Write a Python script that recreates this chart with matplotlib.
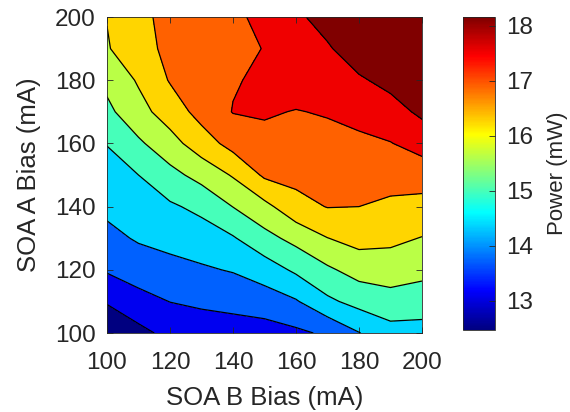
import numpy as np
import matplotlib.pyplot as plt
from matplotlib.colors import Normalize, LinearSegmentedColormap
from matplotlib.cm import ScalarMappable

plt.rcParams['font.family'] = ['Liberation Sans', 'DejaVu Sans']

# grid of bias currents (mA)
soa_b = [100, 110, 120, 130, 140, 150, 160, 170, 180, 190, 200]
soa_a = [100, 110, 120, 130, 140, 150, 160, 170, 180, 190, 200]

# output power (mW), rows = SOA A bias, columns = SOA B bias
power = [
    [12.47, 12.88, 13.20, 13.30, 13.35, 13.37, 13.50, 13.70, 14.16, 14.54, 14.54],
    [13.10, 13.42, 13.62, 13.71, 13.78, 13.90, 14.13, 14.64, 14.94, 15.10, 15.03],
    [13.67, 13.87, 14.01, 14.11, 14.22, 14.46, 14.85, 15.23, 15.54, 15.60, 15.48],
    [14.02, 14.24, 14.35, 14.48, 14.70, 15.14, 15.49, 15.87, 16.07, 16.00, 15.86],
    [14.31, 14.49, 14.67, 14.89, 15.33, 15.72, 16.26, 16.47, 16.45, 16.34, 16.26],
    [14.53, 14.75, 15.15, 15.51, 15.93, 16.54, 16.61, 16.67, 16.68, 16.67, 16.72],
    [14.77, 15.23, 15.67, 16.18, 16.65, 16.88, 16.81, 16.86, 16.91, 17.00, 17.23],
    [15.19, 15.69, 16.14, 16.65, 17.04, 17.07, 17.00, 17.06, 17.19, 17.37, 17.70],
    [15.46, 15.94, 16.49, 16.72, 16.98, 17.11, 17.26, 17.29, 17.52, 17.75, 17.95],
    [15.83, 16.28, 16.56, 16.72, 16.85, 17.04, 17.30, 17.53, 17.89, 17.95, 18.10],
    [15.90, 16.34, 16.58, 16.75, 16.92, 17.15, 17.49, 17.80, 18.10, 18.12, 18.16],
]

# contour levels (mW)
contour_levels = [13.04, 13.61, 14.18, 14.75, 15.32, 15.88, 16.45, 17.02, 17.59]
cbar_ticks = [13, 14, 15, 16, 17, 18]
pmin, pmax = 12.47, 18.16

# MATLAB style jet
mjet = LinearSegmentedColormap('mjet', {
    'red':   [(0, 0, 0), (0.375, 0, 0), (0.625, 1, 1), (0.875, 1, 1), (1, 0.5, 0.5)],
    'green': [(0, 0, 0), (0.125, 0, 0), (0.375, 1, 1), (0.625, 1, 1), (0.875, 0, 0), (1, 0, 0)],
    'blue':  [(0, 0.5, 0.5), (0.125, 1, 1), (0.375, 1, 1), (0.625, 0, 0), (1, 0, 0)],
}, N=256)

txt = '#262626'
X, Y = np.meshgrid(soa_b, soa_a)
Z = np.array(power)

fig = plt.figure(figsize=(5.7, 4.12), dpi=100)
ax = fig.add_axes([0.1877, 0.1917, 0.5526, 0.767])

fill_levels = [0.0] + contour_levels + [100.0]
fill_colors = mjet(np.linspace(0, 1, len(fill_levels) - 1))
ax.contourf(X, Y, Z, levels=fill_levels, colors=fill_colors)
ax.contour(X, Y, Z, levels=contour_levels, colors='black', linewidths=0.9)

ax.set_xlim(100, 200)
ax.set_ylim(100, 200)
ax.set_xticks([100, 120, 140, 160, 180, 200])
ax.set_yticks([100, 120, 140, 160, 180, 200])
ax.tick_params(direction='in', top=True, right=True, labelsize=17.5,
               colors=txt, length=4, width=0.6)
ax.tick_params(axis='x', pad=14)
ax.tick_params(axis='y', pad=8)
for s in ax.spines.values():
    s.set_color(txt)
    s.set_linewidth(0.6)
ax.set_xlabel('SOA B Bias (mA)', fontsize=18.5, color=txt, labelpad=8)
ax.set_ylabel('SOA A Bias (mA)', fontsize=18.5, color=txt, labelpad=10)

cax = fig.add_axes([0.812, 0.199, 0.0561, 0.760])
sm = ScalarMappable(norm=Normalize(pmin, pmax), cmap=mjet)
cb = fig.colorbar(sm, cax=cax, ticks=cbar_ticks)
cb.ax.tick_params(direction='in', labelsize=17.5, colors=txt, length=4,
                  width=0.6, pad=8)
cb.outline.set_edgecolor(txt)
cb.outline.set_linewidth(0.6)
cb.set_label('Power (mW)', fontsize=16, color=txt, labelpad=10)

fig.savefig('out.png', dpi=100)
